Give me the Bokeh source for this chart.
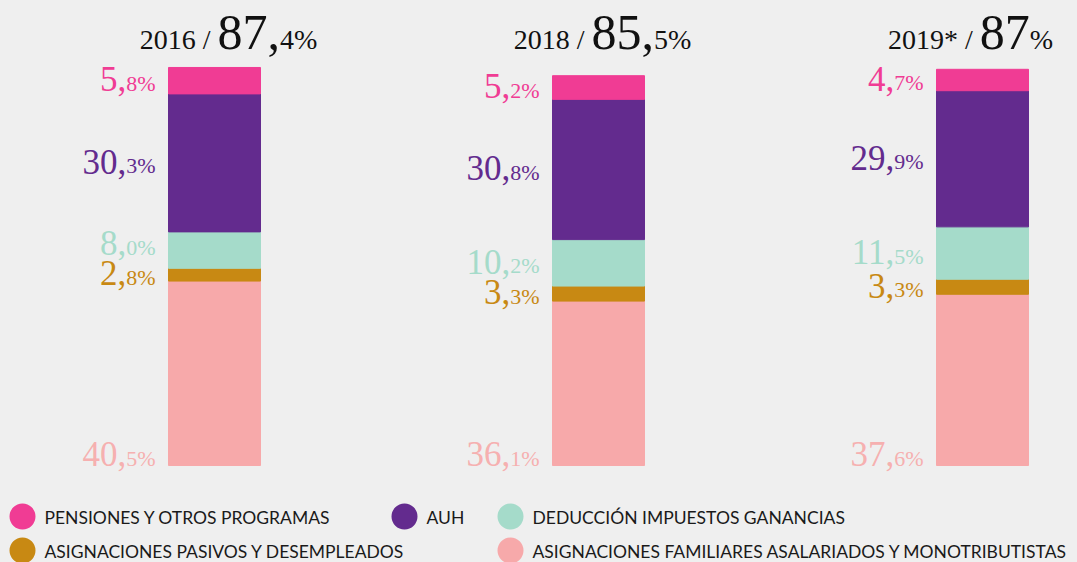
from bokeh.plotting import figure
from bokeh.models import Range1d, ColumnDataSource
from bokeh.core.properties import value
from bokeh.embed import file_html
from bokeh.resources import INLINE

# ---------------- data ----------------
years = ["2016", "2018", "2019*"]
totals = [87.4, 85.5, 87.0]
# stacked from bottom to top
categories = [
    "ASIGNACIONES FAMILIARES ASALARIADOS Y MONOTRIBUTISTAS",
    "ASIGNACIONES PASIVOS Y DESEMPLEADOS",
    "DEDUCCIÓN IMPUESTOS GANANCIAS",
    "AUH",
    "PENSIONES Y OTROS PROGRAMAS",
]
afam_asalariados = [40.5, 36.1, 37.6]
pasivos_desempleados = [2.8, 3.3, 3.3]
deduccion_ganancias = [8.0, 10.2, 11.5]
auh = [30.3, 30.8, 29.9]
pensiones = [5.8, 5.2, 4.7]
series = [afam_asalariados, pasivos_desempleados, deduccion_ganancias, auh, pensiones]

colors = ["#f7a9aa", "#c88913", "#a5dbca", "#632b8e", "#f03c94"]
label_colors = ["#f6b0b0", "#c88913", "#a5dbca", "#632b8e", "#f03c94"]

# ---------------- layout ----------------
BG = "#efefef"
W, H = 1077, 562
BASE_PX = 465          # frame pixel (from top) of the bar base
SCALE = 4.554          # pixels per percentage point
Y_TOP = BASE_PX / SCALE
Y_BOT = -(H - BASE_PX) / SCALE
bar_x = [214, 598, 982]
title_cx = [228, 602, 970]
BAR_W = 92
SERIF = "Liberation Serif"
SANS = "Lato"
K = 0.32               # baseline correction (em)

def py(frame_y):
    return Y_TOP - frame_y / SCALE

CW = {",": 0.25, "%": 0.833, " ": 0.25, "/": 0.278, "*": 0.5}
def tw(s, size):
    return sum(CW.get(c, 0.5) for c in s) * size

def split_num(v):
    s = f"{v:.1f}"
    i, d = s.split(".")
    return i, d

p = figure(width=W, height=H, x_range=Range1d(0, W), y_range=Range1d(Y_BOT, Y_TOP),
           output_backend="svg", toolbar_location=None,
           x_axis_type=None, y_axis_type=None, min_border=0)
p.grid.visible = False
p.outline_line_color = None
p.background_fill_color = BG
p.border_fill_color = BG

# ---------------- bars ----------------
bx, bb, bt, bc = [], [], [], []
for yi in range(len(years)):
    cum = 0.0
    for si, s in enumerate(series):
        bx.append(bar_x[yi]); bb.append(cum); bt.append(cum + s[yi]); bc.append(colors[si])
        cum += s[yi]
p.vbar(x="x", bottom="b", top="t", width=BAR_W, fill_color="c", line_color="c",
       source=ColumnDataSource(dict(x=bx, b=bb, t=bt, c=bc)))

# ---------------- value labels ----------------
BIG, SMALL = 35, 22
GAP = 13
big = dict(x=[], y=[], text=[], xo=[], yo=[], c=[])
small = dict(x=[], y=[], text=[], xo=[], yo=[], c=[])
for yi in range(len(years)):
    cum = 0.0
    ys, pix = [], []
    for si, s in enumerate(series):
        v = s[yi]
        if si == 0:
            yv = 0.0
            px = BASE_PX
        else:
            yv = cum + v / 2
            px = BASE_PX - yv * SCALE + 10
        ys.append(yv); pix.append(px)
        cum += v
    for si in range(2, len(series)):
        if pix[si] > pix[si - 1] - 30:
            pix[si] = pix[si - 1] - 30
    left = bar_x[yi] - BAR_W / 2
    for si, s in enumerate(series):
        i, d = split_num(s[yi])
        st = d + "%"
        yo = pix[si] - (BASE_PX - ys[si] * SCALE)
        small["x"].append(left); small["y"].append(ys[si]); small["text"].append(st)
        small["xo"].append(-GAP); small["yo"].append(yo - K * SMALL); small["c"].append(label_colors[si])
        big["x"].append(left); big["y"].append(ys[si]); big["text"].append(i + ",")
        big["xo"].append(-GAP - tw(st, SMALL)); big["yo"].append(yo - K * BIG); big["c"].append(label_colors[si])

for d, size in ((big, BIG), (small, SMALL)):
    p.text(x="x", y="y", text="text", x_offset="xo", y_offset="yo", text_color="c",
           source=ColumnDataSource(d), text_align="right", text_baseline="alphabetic",
           text_font=value(SERIF), text_font_size=value(f"{size}px"))

# ---------------- titles ----------------
T_SMALL, T_BIG = 28, 50
TITLE_BASE = 48
tparts = {T_SMALL: dict(x=[], y=[], text=[], xo=[]), T_BIG: dict(x=[], y=[], text=[], xo=[])}
for yi, yr in enumerate(years):
    t = totals[yi]
    i, d = split_num(t)
    if d == "0":
        parts = [(yr + " / ", T_SMALL), (i, T_BIG), ("%", T_SMALL)]
    else:
        parts = [(yr + " / ", T_SMALL), (i + ",", T_BIG), (d + "%", T_SMALL)]
    total_w = sum(tw(s, z) for s, z in parts)
    off = -total_w / 2
    for s, z in parts:
        tparts[z]["x"].append(title_cx[yi]); tparts[z]["y"].append(Y_TOP)
        tparts[z]["text"].append(s); tparts[z]["xo"].append(off)
        off += tw(s, z)
for z, d in tparts.items():
    p.text(x="x", y="y", text="text", x_offset="xo", y_offset=TITLE_BASE - K * z,
           source=ColumnDataSource(d), text_align="left", text_baseline="alphabetic",
           text_color="#111111", text_font=value(SERIF), text_font_size=value(f"{z}px"))

# ---------------- legend ----------------
# (category index, circle frame x, frame y)
legend_slots = [(4, 22, 516), (3, 404, 516), (2, 510, 516), (1, 22, 550), (0, 510, 550)]
lx = [s[1] for s in legend_slots]
ly = [py(s[2]) for s in legend_slots]
lc = [colors[s[0]] for s in legend_slots]
lt = [categories[s[0]] for s in legend_slots]
p.scatter(x=lx, y=ly, size=26, marker="circle", fill_color=lc, line_color=None)
p.text(x=lx, y=ly, text=lt, x_offset=22, y_offset=1, text_align="left", text_baseline="middle",
       text_color="#1a1a1a", text_font=value(SANS), text_font_size=value("17.5px"))

html = file_html(p, INLINE).replace("<body>", '<body style="background:#efefef">')
open("out.html", "w").write(html)
